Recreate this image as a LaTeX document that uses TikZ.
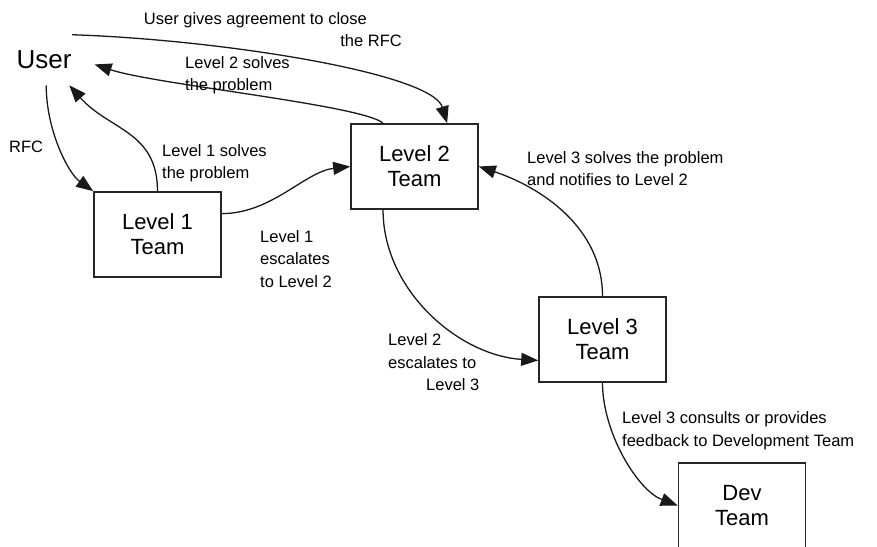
\documentclass[tikz,border=0pt]{standalone}
\usepackage{fontspec}
\setmainfont{Liberation Sans}
\usetikzlibrary{arrows.meta}

\begin{document}
\begin{tikzpicture}[x=1pt,y=-1pt,>={Triangle[length=17pt,width=13pt]}]
  \tikzset{
    team/.style={draw=black!85,line width=1.6pt,minimum width=127pt,minimum height=85pt,inner sep=0pt,align=center,font=\fontsize{22}{25}\selectfont},
    actor/.style={inner xsep=23pt,inner ysep=16pt,font=\fontsize{26}{30}\selectfont},
    lbl/.style={inner sep=0pt,anchor=west,align=left,font=\fontsize{16.5}{22.5}\selectfont},
    flow/.style={draw=black!90,line width=1.3pt,->},
  }
  \useasboundingbox (0,0) rectangle (877,546);
  \clip (0,0) rectangle (877,546);

  \node[actor] (user) at (44,60) {User};
  \node[team] (l1) at (157.5,234.5) {Level 1\\Team};
  \node[team] (l2) at (414.5,166.5) {Level 2\\Team};
  \node[team] (l3) at (602.5,339.5) {Level 3\\Team};
  \node[team] (dev) at (742,505.5) {Dev\\Team};

  % escalation and answers
  \draw[flow] (user.-85) .. controls +(0,45) and +(-25,-18) .. (l1.north west);
  \draw[flow] (l1.north) .. controls +(0,-60) and +(40,45) .. (user.-45);
  \draw[flow] (l1.18) .. controls +(50,0) and +(-45,5) .. (l2.west);
  \draw[flow] (l2.126) .. controls +(-20,-18) and +(60,20) .. (user.-5);
  \draw[flow] (user.42) .. controls +(150,5) and +(-15,-50) .. (l2.53);
  \draw[flow] (l2.-126) .. controls +(0,80) and +(-80,-5) .. (l3.198);
  \draw[flow] (l3.north) .. controls +(0,-70) and +(60,20) .. (l2.east);
  \draw[flow] (l3.south) .. controls +(0,50) and +(-40,-15) .. (dev.west);

  \node[lbl] (t-rfc) at (9,147) {RFC};
  \node[lbl,anchor=east,align=right] (t-close) at (402,29.5) {User gives agreement to close\hspace*{35pt}\\the RFC};
  \node[lbl] (t-l2solve) at (185,75) {Level 2 solves\\the problem};
  \node[lbl] (t-l1solve) at (162,163) {Level 1 solves\\the problem};
  \node[lbl] (t-l1esc) at (260,259) {Level 1\\escalates\\to Level 2};
  \node[lbl] (t-l3solve) at (527,168.5) {Level 3 solves the problem\\and notifies to Level 2};
  \node[lbl] (t-l2esc) at (388,362.5) {Level 2\\escalates to\\\hspace*{38pt}Level 3};
  \node[lbl] (t-l3dev) at (622,430.5) {Level 3 consults or provides\\feedback to Development Team};
\end{tikzpicture}
\end{document}
